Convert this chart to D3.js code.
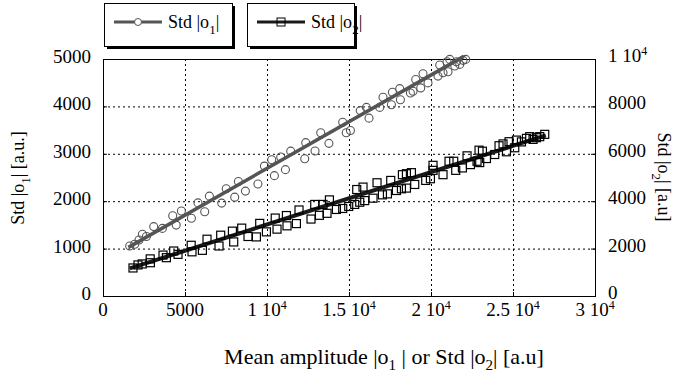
<!DOCTYPE html>
<html lang="en">
<head>
<meta charset="utf-8">
<script src="https://d3js.org/d3.v7.min.js"></script>
<style>
  body { margin: 0; background: #fff; }
</style>
</head>
<body>
<svg id="chart" width="682" height="372"></svg>
<script>
// series 1 : Std |o1| vs mean amplitude (left axis)
var o1X = [1628,1933,2195,2403,2647,3092,3622,4250,4464,4781,5391,5793,6202,6488,7238,7513,8031,8257,8684,9446,
  9842,10288,10452,10836,11123,11446,12300,12361,12928,13276,13776,14617,14831,15087,15684,16062,16221,16873,17074,17586,
  17647,18093,18135,18745,18904,19068,19373,19513,19818,20428,20532,20733,20977,21038,21142,21447,21550,21752,21953,22118];
var o1Y = [1055,1092,1183,1304,1256,1464,1426,1694,1496,1794,1639,1964,1779,2107,1960,2262,2085,2417,2213,2362,
  2741,2873,2539,2932,2666,3056,2896,3235,3060,3443,3220,3667,3443,3490,3911,3979,3752,3979,4192,4035,
  4299,4375,4141,4284,4320,4567,4390,4688,4496,4639,4873,4709,4943,4730,4992,4852,4943,4886,4971,4992];
// series 2 : Std |o2| (right axis)
var o2X = [1829,2134,2390,2878,2890,3659,3866,4311,4574,5378,5427,6061,6342,7074,7177,7891,7970,8458,8842,9354,
  9556,9964,10501,10611,11184,11220,11793,11952,12684,12910,13196,13416,13660,13806,14233,14617,14983,15349,15471,15654,
  15855,15959,16465,16709,17038,17343,17544,17892,18196,18257,18501,18501,18806,19008,19678,19965,20123,20123,20733,21099,
  21386,21508,21916,22197,22404,22807,22929,22971,23136,23380,23886,24148,24392,24600,24758,25106,25209,25514,25819,26020,
  26222,26429,26630,26935];
var o2Y = [1183,1311,1353,1566,1404,1727,1617,1898,1757,2140,1864,1927,2396,2110,2566,2736,2281,2864,2510,2493,
  3064,2706,3289,2821,3395,2961,3055,3630,3247,3864,3404,3864,3489,4055,3651,3693,3778,3864,4493,3957,
  4595,4025,4127,4778,4268,4310,4876,4451,4523,5119,4553,5161,5204,4706,4876,4948,5514,5302,5119,5685,
  5685,5302,5404,5914,5544,5685,6153,5629,6110,5800,5970,6340,6417,6085,6510,6255,6578,6502,6651,6723,
  6608,6680,6723,6821];
// straight fits
var fit1X = [1550, 22000], fit1Y = [1026, 5055];
var fit2X = [1628, 26996], fit2Y = [1162, 6778];

var xTicks = [0, 5000, 10000, 15000, 20000, 25000, 30000];
var xTickLabels = [["0"], ["5000"], ["1 10", "4"], ["1.5 10", "4"], ["2 10", "4"], ["2.5 10", "4"], ["3 10", "4"]];
var yLeftTicks = [0, 1000, 2000, 3000, 4000, 5000];
var yRightTicks = [0, 2000, 4000, 6000, 8000, 10000];
var yRightLabels = [["0"], ["2000"], ["4000"], ["6000"], ["8000"], ["1 10", "4"]];

var FONT = "Liberation Serif";
var svg = d3.select("#chart");
var L = 103, R = 595, T = 59, B = 296;

var x = d3.scaleLinear().domain([0, 30000]).range([L, R]);
var yl = d3.scaleLinear().domain([0, 5000]).range([B, T]);
var yr = d3.scaleLinear().domain([0, 10000]).range([B, T]);

// grid
var grid = svg.append("g").attr("stroke", "#000").attr("stroke-width", 1).attr("stroke-dasharray", "2,3");
grid.selectAll(".gx").data(xTicks.slice(1, -1)).enter().append("line")
  .attr("x1", d => x(d) + 0.5).attr("x2", d => x(d) + 0.5).attr("y1", T).attr("y2", B);
grid.selectAll(".gy").data(yLeftTicks.slice(1, -1)).enter().append("line")
  .attr("y1", d => yl(d) + 0.5).attr("y2", d => yl(d) + 0.5).attr("x1", L).attr("x2", R);

// axes (ticks inward)
svg.append("g").attr("transform", "translate(0," + B + ")")
  .call(d3.axisBottom(x).tickValues(xTicks).tickSize(-4).tickFormat(""))
  .call(g => g.select(".domain").remove());
svg.append("g").attr("transform", "translate(" + L + ",0)")
  .call(d3.axisLeft(yl).tickValues(yLeftTicks).tickSize(-4).tickFormat(""))
  .call(g => g.select(".domain").remove());
svg.append("g").attr("transform", "translate(" + R + ",0)")
  .call(d3.axisRight(yr).tickValues(yRightTicks).tickSize(-4).tickFormat(""))
  .call(g => g.select(".domain").remove());

svg.append("rect").attr("x", L + 0.5).attr("y", T + 0.5).attr("width", R - L).attr("height", B - T)
  .attr("fill", "none").attr("stroke", "#000").attr("stroke-width", 1);

function sup(sel, parts) {
  sel.text(parts[0]);
  if (parts.length > 1) sel.append("tspan").attr("dy", -7).attr("font-size", 12).text(parts[1]);
}

// tick labels
svg.selectAll(".xl").data(xTicks).enter().append("text")
  .attr("font-family", FONT)
  .attr("x", d => x(d)).attr("y", 316).attr("text-anchor", "middle").attr("font-size", 19)
  .each(function(d, i) { sup(d3.select(this), xTickLabels[i]); });
svg.selectAll(".yll").data(yLeftTicks).enter().append("text")
  .attr("font-family", FONT)
  .attr("x", L - 12).attr("y", d => yl(d) + 4).attr("text-anchor", "end").attr("font-size", 19)
  .text(d => d);
svg.selectAll(".yrl").data(yRightTicks).enter().append("text")
  .attr("font-family", FONT)
  .attr("x", R + 13).attr("y", d => yr(d) + 3).attr("font-size", 19)
  .each(function(d, i) { sup(d3.select(this), yRightLabels[i]); });

// axis titles
function absTitle(sel, a, sub, b) {
  sel.append("tspan").text(a);
  sel.append("tspan").attr("dy", 6).attr("font-size", 13).text(sub);
  sel.append("tspan").attr("dy", -6).text(b);
}
var xt = svg.append("text").attr("font-family", FONT)
  .attr("x", 384).attr("y", 364).attr("text-anchor", "middle").attr("font-size", 22);
xt.append("tspan").text("Mean amplitude |o");
xt.append("tspan").attr("dy", 6).attr("font-size", 15).text("1");
xt.append("tspan").attr("dy", -6).text(" | or Std |o");
xt.append("tspan").attr("dy", 6).attr("font-size", 15).text("2");
xt.append("tspan").attr("dy", -6).text("| [a.u]");

var ylt = svg.append("text").attr("font-family", FONT).attr("transform", "translate(24,178) rotate(-90)")
  .attr("text-anchor", "middle").attr("font-size", 18);
absTitle(ylt, "Std |o", "1", "| [a.u.]");
var yrt = svg.append("text").attr("font-family", FONT).attr("transform", "translate(658,177) rotate(90)")
  .attr("text-anchor", "middle").attr("font-size", 18);
absTitle(yrt, "Std |o", "2", "| [a.u]");

// data
var line = d3.line();
svg.append("path").attr("d", line(fit1X.map((v, i) => [x(v), yl(fit1Y[i])])))
  .attr("stroke", "#555").attr("stroke-width", 3.5).attr("fill", "none");
svg.append("path").attr("d", line(fit2X.map((v, i) => [x(v), yr(fit2Y[i])])))
  .attr("stroke", "#1a1a1a").attr("stroke-width", 4).attr("fill", "none");

svg.selectAll(".c1").data(o1X).enter().append("circle")
  .attr("cx", d => x(d)).attr("cy", (d, i) => yl(o1Y[i])).attr("r", 4)
  .attr("fill", "none").attr("stroke", "#555").attr("stroke-width", 1.1);
svg.selectAll(".s2").data(o2X).enter().append("rect")
  .attr("x", d => x(d) - 4).attr("y", (d, i) => yr(o2Y[i]) - 4).attr("width", 8).attr("height", 8)
  .attr("fill", "none").attr("stroke", "#000").attr("stroke-width", 1.2);

// legend
var legends = [
  { x: 104, w: 128, color: "#555", sw: 3, mark: "circle", sub: "1" },
  { x: 247, w: 107, color: "#1a1a1a", sw: 3, mark: "square", sub: "2" }
];
legends.forEach(function(d) {
  var g = svg.append("g").attr("transform", "translate(" + d.x + ",3)");
  g.append("rect").attr("x", 3).attr("y", 3).attr("width", d.w).attr("height", 43).attr("fill", "#000");
  g.append("rect").attr("x", 0.5).attr("y", 0.5).attr("width", d.w).attr("height", 43)
    .attr("fill", "#fff").attr("stroke", "#000");
  g.append("line").attr("x1", 10).attr("x2", 58).attr("y1", 19).attr("y2", 19)
    .attr("stroke", d.color).attr("stroke-width", d.sw);
  if (d.mark === "circle")
    g.append("circle").attr("cx", 34).attr("cy", 19).attr("r", 3.5).attr("fill", "#fff").attr("stroke", d.color);
  else
    g.append("rect").attr("x", 30).attr("y", 15).attr("width", 8).attr("height", 8).attr("fill", "none").attr("stroke", "#000");
  var t = g.append("text").attr("font-family", FONT).attr("x", 64).attr("y", 25).attr("font-size", 18);
  absTitle(t, "Std |o", d.sub, "|");
});
</script>
</body>
</html>
